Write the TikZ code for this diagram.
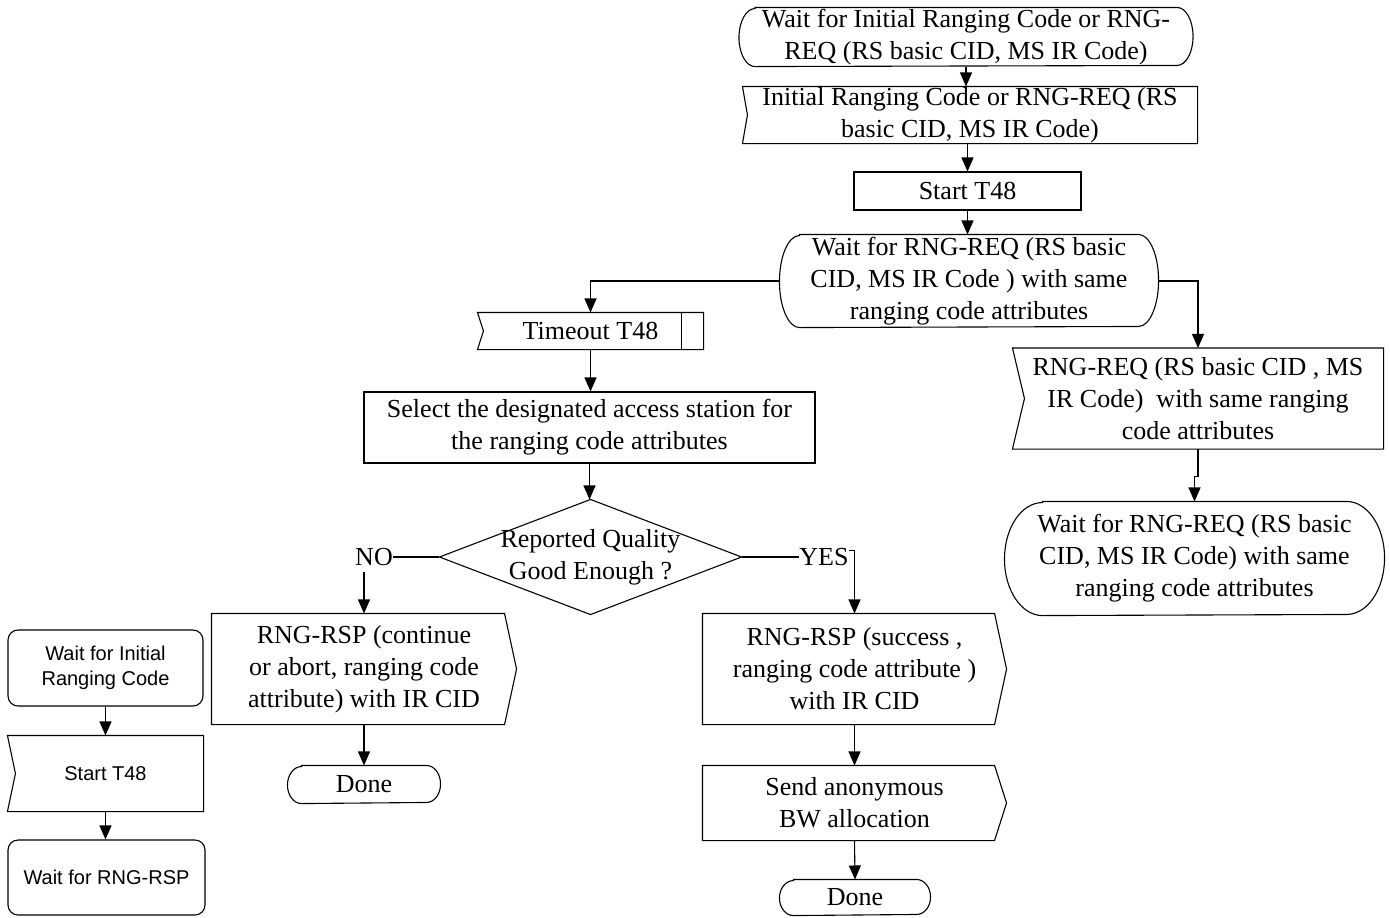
\documentclass[tikz,border=0pt]{standalone}
\usepackage{fontspec}
\setmainfont{Liberation Serif}
\newfontfamily\gothfont{Liberation Sans}
\usetikzlibrary{positioning}
\usetikzlibrary{calc}
\usetikzlibrary{arrows.meta}

\begin{document}
\begin{tikzpicture}[x=0.5pt, y=-0.5pt, line width=0.55pt,
  box/.style={rectangle, inner sep=0pt, align=center, font=\fontsize{13}{16}\selectfont},
  sbox/.style={box, font=\gothfont\fontsize{10}{12.5}\selectfont},
  arr/.style={-{Triangle[length=7pt,width=6pt]}}]

%---------------------------------------
% Shared outlines
%---------------------------------------
\newcommand*\termshape[3]{% node, x radius, y radius
  \draw ([xshift=#2]#1.north west) -- ([xshift=-#2]#1.north east)
    arc[start angle=90, end angle=-90, x radius=#2, y radius=#3]
    -- ([xshift=#2]#1.south west)
    arc[start angle=270, end angle=90, x radius=#2, y radius=#3] -- cycle;}
\newcommand*\inshape[2]{% node, notch depth
  \draw (#1.north west) -- (#1.north east) -- (#1.south east)
    -- (#1.south west) -- ([xshift=#2]#1.west) -- cycle;}
\newcommand*\outshape[2]{% node, point depth
  \draw (#1.north west) -- ([xshift=-#2]#1.north east) -- (#1.east)
    -- ([xshift=-#2]#1.south east) -- (#1.south west) -- cycle;}

\useasboundingbox (0,0) rectangle (1390,917);

%====================================================
% Main flow
%====================================================
\node[box, minimum width=226.5pt, minimum height=29pt] (waitcode) at (966,37)
  {Wait for Initial Ranging Code or RNG-\\REQ (RS basic CID, MS IR Code)};
\node[box, minimum width=227pt, minimum height=28pt] (incode) at (970,115)
  {Initial Ranging Code or RNG-REQ (RS\\basic CID, MS IR Code)};
\node[box, draw, minimum width=113.5pt, minimum height=19pt] (start) at (967.5,191)
  {Start T48};
\node[box, minimum width=189pt, minimum height=46pt] (waitreq) at (969,281)
  {Wait for RNG-REQ (RS basic\\CID, MS IR Code ) with same\\ranging code attributes};

% timeout branch
\node[box, minimum width=112.5pt, minimum height=18pt] (timeout) at (590.5,331)
  {Timeout T48};
\node[box, draw, minimum width=225.5pt, minimum height=35.5pt] (select) at (589.5,427.5)
  {Select the designated access station for\\the ranging code attributes};
\node[box, minimum width=150.5pt, minimum height=57pt] (quality) at (590.5,557)
  {Reported Quality\\Good Enough ?};
\node[box] (no) at (374,557) {NO};
\node[box] (yes) at (824,557) {YES};

\node[box, minimum width=152pt, minimum height=55pt] (rspfail) at (364,669)
  {RNG-RSP (continue\\or abort, ranging code\\attribute) with IR CID};
\node[box, minimum width=76pt, minimum height=18.5pt] (donefail) at (364,784.5)
  {Done};
\node[box, minimum width=151.5pt, minimum height=55pt] (rspok) at (854.5,669)
  {RNG-RSP (success ,\\ranging code attribute )\\with IR CID};
\node[box, minimum width=151.5pt, minimum height=37pt] (sendbw) at (854.5,803)
  {Send anonymous\\BW allocation};
\node[box, minimum width=75pt, minimum height=17.5pt] (doneok) at (855,897.5)
  {Done};

% same attributes branch
\node[box, minimum width=185pt, minimum height=50pt] (inreq) at (1198,398.5)
  {RNG-REQ (RS basic CID , MS\\IR Code)~ with same ranging\\code attributes};
\node[box, minimum width=189.5pt, minimum height=56.5pt] (waitsame) at (1194.5,558.5)
  {Wait for RNG-REQ (RS basic\\CID, MS IR Code) with same\\ranging code attributes};

% Outlines
\termshape{waitcode}{8pt}{14.5pt}
\inshape{incode}{2.5pt}
\termshape{waitreq}{10pt}{23pt}
\inshape{timeout}{3pt}
\draw ([xshift=-11pt]timeout.north east) -- ([xshift=-11pt]timeout.south east);
\draw (quality.north) -- (quality.east) -- (quality.south) -- (quality.west) -- cycle;
\outshape{rspfail}{6pt}
\termshape{donefail}{7pt}{9.25pt}
\outshape{rspok}{6pt}
\outshape{sendbw}{6pt}
\termshape{doneok}{7pt}{8.75pt}
\inshape{inreq}{6pt}
\termshape{waitsame}{19pt}{28.25pt}

% Connectors
\draw[arr] (waitcode.south) -- (waitcode.south |- incode.north);
\draw[arr] (start.north |- incode.south) -- (start.north);
\draw[arr] (start.south) -- (start.south |- waitreq.north);
\draw[arr] (waitreq.west) -| (timeout.north);
\draw[arr] (waitreq.east) -| (inreq.north);
\draw[arr] (timeout.south) -- (timeout.south |- select.north);
\draw[arr] (select.south) -- (select.south |- quality.north);
\draw (quality.west) -- (no.east);
\draw (quality.east) -- (yes.west);
\draw[arr] ([yshift=-3pt]rspfail.north |- no.south) -- (rspfail.north);
\draw[arr] ([yshift=-1.5pt]yes.north east) -| (rspok.north);
\draw[arr] (rspfail.south) -- (donefail.north);
\draw[arr] (rspok.south) -- (sendbw.north);
\draw[arr] (sendbw.south) -- (doneok.north);
\draw[arr] (inreq.south) -- ++(0,27) -| (waitsame.north);

%====================================================
% Legend on the left
%====================================================
\node[sbox, draw, rounded corners=5pt, minimum width=97.5pt, minimum height=38pt] (lwait) at (105.5,668)
  {Wait for Initial\\Ranging Code};
\node[sbox, minimum width=97.5pt, minimum height=37.5pt] (lstart) at (105.5,773.5)
  {Start T48};
\node[sbox, draw, rounded corners=5pt, minimum width=98.5pt, minimum height=37.5pt] (lrsp) at (106.5,877.5)
  {Wait for RNG-RSP};
\inshape{lstart}{4pt}
\draw[arr] (lwait.south) -- (lwait.south |- lstart.north);
\draw[arr] (lstart.south) -- (lstart.south |- lrsp.north);

\end{tikzpicture}
\end{document}
